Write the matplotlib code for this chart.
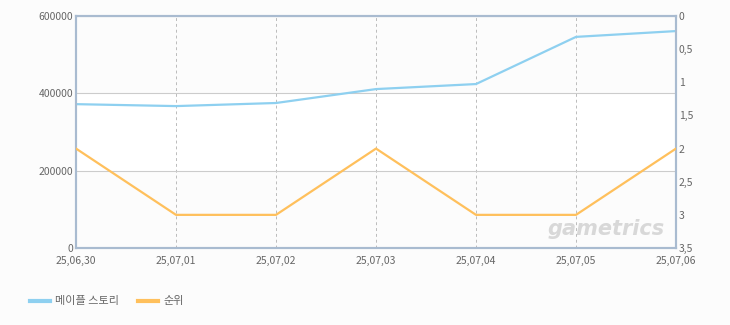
import matplotlib
matplotlib.use("Agg")
import matplotlib.pyplot as plt

plt.rcParams['font.family'] = ['Noto Sans CJK KR', 'DejaVu Sans']

# data
dates = ["25,06,30", "25,07,01", "25,07,02", "25,07,03", "25,07,04", "25,07,05", "25,07,06"]
players = [372000, 367000, 375000, 411000, 424000, 546000, 561000]
rank = [2, 3, 3, 2, 3, 3, 2]

blue = "#8ed0f0"
orange = "#ffc05c"
txt = "#666666"
frame = "#a9bbd0"

fig = plt.figure(figsize=(7.3, 3.25), dpi=100, facecolor="#fcfcfc")
ax = fig.add_axes([76/730, 77/325, 600/730, 232/325])
ax.set_facecolor("#fcfcfc")

x = list(range(len(dates)))

# alternating bands
ax.axhspan(200000, 400000, color="white", zorder=0)

ax.plot(x, players, color=blue, lw=1.6, zorder=3)
ax.set_xlim(0, len(dates) - 1)
ax.set_ylim(0, 600000)
ax.set_yticks([0, 200000, 400000, 600000])
ax.set_yticklabels(["0", "200000", "400000", "600000"])
ax.set_xticks(x)
ax.set_xticklabels(dates)
ax.grid(axis="y", color="#cccccc", lw=0.8)
ax.grid(axis="x", color="#bbbbbb", lw=0.7, ls=(0, (3, 3)))
ax.set_axisbelow(True)

ax2 = ax.twinx()
ax2.plot(x, rank, color=orange, lw=1.6, zorder=3)
ax2.set_ylim(3.5, 0)
ax2.set_yticks([0, 0.5, 1, 1.5, 2, 2.5, 3, 3.5])
ax2.set_yticklabels(["0", "0,5", "1", "1,5", "2", "2,5", "3", "3,5"])

for a in (ax, ax2):
    for s in a.spines.values():
        s.set_color(frame)
        s.set_linewidth(1.5)
    a.tick_params(length=0, colors=txt, labelsize=7.5, pad=2)
ax.tick_params(axis="x", pad=6)

ax.text(0.982, 0.04, "gametrics", transform=ax.transAxes, ha="right", va="bottom",
        fontsize=15, style="italic", fontweight="bold", color="#d8d8d8",
        family="DejaVu Sans", zorder=1)

# legend
fig.lines.append(plt.Line2D([30/730, 50/730], [24/325, 24/325], color=blue, lw=3, transform=fig.transFigure))
fig.text(55/730, 24/325, "메이플 스토리", color=txt, fontsize=8, va="center")
fig.lines.append(plt.Line2D([138/730, 158/730], [24/325, 24/325], color=orange, lw=3, transform=fig.transFigure))
fig.text(163/730, 24/325, "순위", color=txt, fontsize=8, va="center")

fig.savefig("out.png", dpi=100, facecolor=fig.get_facecolor())
